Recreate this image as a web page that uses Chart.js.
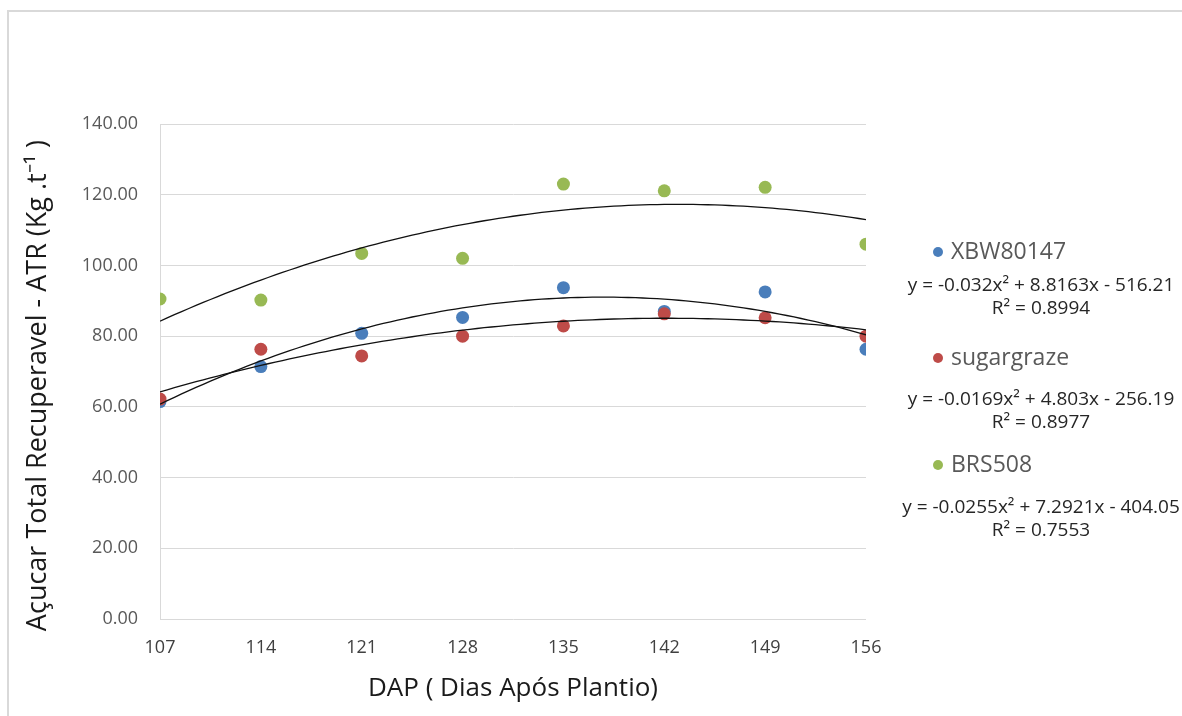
<!DOCTYPE html>
<html>
<head>
<meta charset="utf-8">
<script src="https://cdn.jsdelivr.net/npm/chart.js@4.4.0/dist/chart.umd.min.js"></script>
<style>
    html, body { margin: 0; padding: 0; background: #fff; }
    #wrap { position: relative; width: 1182px; height: 716px; overflow: hidden; }
    #frame { position: absolute; left: 7px; top: 10px; right: -4px; bottom: -4px;
             border-top: 2px solid #d9d9d9; border-left: 2px solid #d9d9d9; }
    canvas { position: absolute; left: 0; top: 0; }
</style>
</head>
<body>
<div id="wrap">
    <div id="frame"></div>
    <canvas id="atrChart" width="1182" height="716"></canvas>
</div>
<script>
// -------- DATA --------
const dapDays = [107, 114, 121, 128, 135, 142, 149, 156];
const yTickValues = [0, 20, 40, 60, 80, 100, 120, 140];
const seriesNames = ["XBW80147", "sugargraze", "BRS508"];

const xbwValues        = [61.5, 71.4, 80.8, 85.3, 93.7, 87.0, 92.5, 76.3];
const sugargrazeValues = [62.2, 76.3, 74.4, 80.0, 82.9, 86.3, 85.2, 80.0];
const brsValues        = [90.5, 90.2, 103.4, 102.0, 123.0, 121.1, 122.1, 106.0];

// polynomial trendlines as printed next to the legend: a*x^2 + b*x + c
const xbwTrend        = [-0.032, 8.8163, -516.21];
const sugargrazeTrend = [-0.0169, 4.803, -256.19];
const brsTrend        = [-0.0255, 7.2921, -404.05];
const rSquared        = ["0.8994", "0.8977", "0.7553"];

const seriesColors = ["#4a7ebb", "#be4b48", "#98b954"];

// -------- HELPERS --------
function toPoints(values) {
    return dapDays.map((d, i) => ({ x: d, y: values[i] }));
}

function trendPoints(coef) {
    const pts = [];
    for (let x = dapDays[0]; x <= dapDays[dapDays.length - 1]; x += 0.5) {
        pts.push({ x, y: coef[0] * x * x + coef[1] * x + coef[2] });
    }
    return pts;
}

function equationText(coef) {
    const sign = coef[2] < 0 ? "- " : "+ ";
    return "y = " + coef[0] + "x\u00B2 + " + coef[1] + "x " + sign + Math.abs(coef[2]);
}

const allValues = [xbwValues, sugargrazeValues, brsValues];
const allTrends = [xbwTrend, sugargrazeTrend, brsTrend];

// -------- SIDE LEGEND + TRENDLINE LABELS --------
const sideLegend = {
    id: "sideLegend",
    afterDraw(chart) {
        const ctx = chart.ctx;
        const labelY = [252, 358, 465];
        const eqY = [286, 400, 508];
        ctx.save();
        seriesNames.forEach((name, i) => {
            const y = labelY[i];
            ctx.fillStyle = seriesColors[i];
            ctx.beginPath();
            ctx.arc(938, y, 5, 0, Math.PI * 2);
            ctx.fill();

            ctx.fillStyle = "#595959";
            ctx.font = "23px 'Open Sans'";
            ctx.textAlign = "left";
            ctx.textBaseline = "middle";
            ctx.fillText(name, 951, y);

            ctx.fillStyle = "#262626";
            ctx.font = "19px 'Open Sans'";
            ctx.textAlign = "center";
            ctx.fillText(equationText(allTrends[i]), 1041, eqY[i]);
            ctx.fillText("R\u00B2 = " + rSquared[i], 1041, eqY[i] + 23);
        });
        ctx.restore();
    }
};

// -------- CHART --------
const scatterSets = seriesNames.map((name, i) => ({
    label: name,
    data: toPoints(allValues[i]),
    backgroundColor: seriesColors[i],
    borderColor: seriesColors[i],
    pointRadius: 6.5,
    pointBorderWidth: 0,
    showLine: false,
    order: [2, 1, 3][i]
}));

const trendSets = seriesNames.map((name, i) => ({
    label: name + " trend",
    data: trendPoints(allTrends[i]),
    borderColor: "#111111",
    borderWidth: 1.3,
    pointRadius: 0,
    showLine: true,
    fill: false,
    tension: 0,
    order: 0
}));

new Chart(document.getElementById("atrChart"), {
    type: "scatter",
    data: { datasets: [...trendSets, ...scatterSets] },
    plugins: [sideLegend],
    options: {
        responsive: false,
        animation: false,
        layout: { padding: { left: 0, top: 124, right: 316, bottom: 0 } },
        plugins: {
            legend: { display: false },
            tooltip: { enabled: false }
        },
        scales: {
            x: {
                type: "linear",
                min: dapDays[0],
                max: dapDays[dapDays.length - 1],
                afterBuildTicks: scale => { scale.ticks = dapDays.map(v => ({ value: v })); },
                afterFit: scale => { scale.height = 97; },
                grid: { display: false, drawTicks: false },
                border: { display: false },
                ticks: {
                    padding: 18,
                    color: "#404040",
                    font: { family: "'Open Sans'", size: 18 },
                    callback: v => String(v)
                },
                title: {
                    display: true,
                    text: "DAP ( Dias Após Plantio)",
                    color: "#1a1a1a",
                    font: { family: "'Open Sans'", size: 26 },
                    padding: { top: 0, bottom: 12 }
                }
            },
            y: {
                min: 0,
                max: 140,
                afterBuildTicks: scale => { scale.ticks = yTickValues.map(v => ({ value: v })); },
                afterFit: scale => { scale.width = 160; },
                grid: { color: "#d9d9d9", lineWidth: 1, drawTicks: false },
                border: { display: true, color: "#d9d9d9" },
                ticks: {
                    padding: 22,
                    color: "#595959",
                    font: { family: "'Open Sans'", size: 18 },
                    callback: v => v.toFixed(2)
                },
                title: {
                    display: true,
                    text: "Açucar Total Recuperavel - ATR (Kg .t\u207B\u00B9 )    ",
                    color: "#1a1a1a",
                    font: { family: "'Open Sans'", size: 27 },
                    padding: { top: 22, bottom: 0 }
                }
            }
        }
    }
});
</script>
</body>
</html>
